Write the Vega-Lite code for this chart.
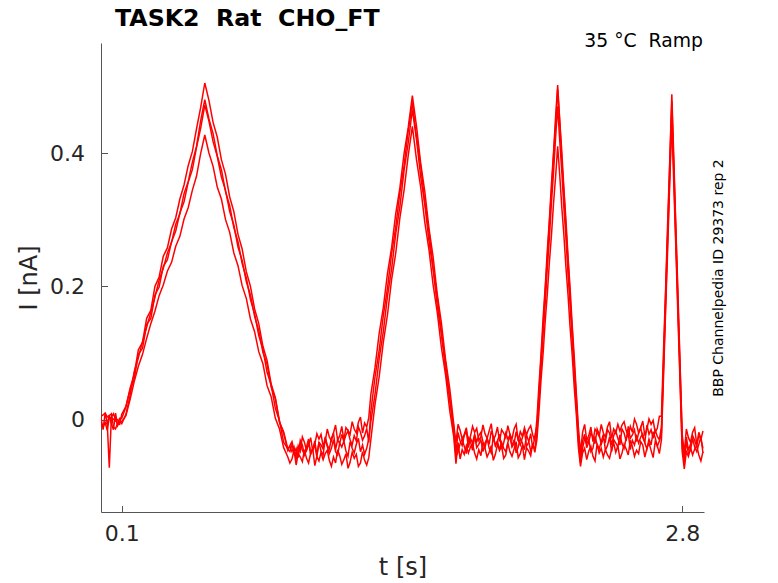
{
  "$schema": "https://vega.github.io/schema/vega-lite/v6.json",
  "width": 603,
  "height": 469,
  "autosize": {"type": "none"},
  "padding": {"left": 101, "top": 43, "right": 74, "bottom": 71},
  "background": "white",
  "title": {
    "text": "TASK2\u00a0 Rat\u00a0 CHO_FT",
    "anchor": "start",
    "frame": "group",
    "dx": 14,
    "offset": 1.5,
    "font": "DejaVu Sans",
    "fontSize": 23.7,
    "fontWeight": "bold",
    "color": "black"
  },
  "data": {
    "values": [
      {"t": 0.00, "a": 0.003, "b": -0.010, "c": 0.005, "d": -0.005},
      {"t": 0.01, "a": -0.015, "b": -0.008, "c": 0.007, "d": -0.011},
      {"t": 0.02, "a": 0.010, "b": -0.004, "c": 0.010, "d": -0.005},
      {"t": 0.03, "a": -0.005, "b": -0.016, "c": 0.004, "d": -0.006},
      {"t": 0.04, "a": -0.072, "b": 0.003, "c": 0.006, "d": 0.007},
      {"t": 0.05, "a": 0.004, "b": 0.003, "c": 0.009, "d": -0.007},
      {"t": 0.06, "a": 0.009, "b": 0.001, "c": -0.011, "d": -0.015},
      {"t": 0.07, "a": 0.000, "b": -0.002, "c": -0.014, "d": 0.010},
      {"t": 0.08, "a": -0.007, "b": 0.000, "c": -0.005, "d": -0.009},
      {"t": 0.09, "a": 0.002, "b": -0.003, "c": -0.007, "d": -0.003},
      {"t": 0.10, "a": 0.002, "b": -0.006, "c": 0.008, "d": -0.003},
      {"t": 0.12, "a": 0.019, "b": 0.008, "c": 0.020, "d": 0.006},
      {"t": 0.14, "a": 0.047, "b": 0.036, "c": 0.044, "d": 0.030},
      {"t": 0.16, "a": 0.068, "b": 0.072, "c": 0.061, "d": 0.057},
      {"t": 0.18, "a": 0.105, "b": 0.093, "c": 0.098, "d": 0.080},
      {"t": 0.20, "a": 0.116, "b": 0.117, "c": 0.107, "d": 0.098},
      {"t": 0.22, "a": 0.152, "b": 0.139, "c": 0.143, "d": 0.122},
      {"t": 0.24, "a": 0.164, "b": 0.161, "c": 0.152, "d": 0.144},
      {"t": 0.26, "a": 0.200, "b": 0.184, "c": 0.187, "d": 0.163},
      {"t": 0.28, "a": 0.214, "b": 0.209, "c": 0.199, "d": 0.186},
      {"t": 0.30, "a": 0.245, "b": 0.227, "c": 0.230, "d": 0.202},
      {"t": 0.32, "a": 0.258, "b": 0.250, "c": 0.240, "d": 0.223},
      {"t": 0.34, "a": 0.286, "b": 0.266, "c": 0.267, "d": 0.236},
      {"t": 0.36, "a": 0.303, "b": 0.293, "c": 0.283, "d": 0.260},
      {"t": 0.38, "a": 0.331, "b": 0.309, "c": 0.310, "d": 0.275},
      {"t": 0.40, "a": 0.352, "b": 0.339, "c": 0.327, "d": 0.301},
      {"t": 0.42, "a": 0.381, "b": 0.357, "c": 0.356, "d": 0.318},
      {"t": 0.44, "a": 0.402, "b": 0.386, "c": 0.375, "d": 0.344},
      {"t": 0.46, "a": 0.436, "b": 0.410, "c": 0.408, "d": 0.365},
      {"t": 0.48, "a": 0.468, "b": 0.448, "c": 0.437, "d": 0.399},
      {"t": 0.50, "a": 0.505, "b": 0.480, "c": 0.472, "d": 0.427},
      {"t": 0.52, "a": 0.479, "b": 0.451, "c": 0.448, "d": 0.400},
      {"t": 0.54, "a": 0.446, "b": 0.429, "c": 0.417, "d": 0.380},
      {"t": 0.56, "a": 0.424, "b": 0.396, "c": 0.395, "d": 0.349},
      {"t": 0.58, "a": 0.390, "b": 0.375, "c": 0.364, "d": 0.331},
      {"t": 0.60, "a": 0.368, "b": 0.342, "c": 0.344, "d": 0.300},
      {"t": 0.62, "a": 0.334, "b": 0.321, "c": 0.312, "d": 0.281},
      {"t": 0.64, "a": 0.312, "b": 0.288, "c": 0.292, "d": 0.250},
      {"t": 0.66, "a": 0.278, "b": 0.267, "c": 0.259, "d": 0.231},
      {"t": 0.68, "a": 0.256, "b": 0.234, "c": 0.239, "d": 0.201},
      {"t": 0.70, "a": 0.222, "b": 0.213, "c": 0.207, "d": 0.182},
      {"t": 0.72, "a": 0.200, "b": 0.180, "c": 0.187, "d": 0.151},
      {"t": 0.74, "a": 0.166, "b": 0.159, "c": 0.155, "d": 0.132},
      {"t": 0.76, "a": 0.144, "b": 0.126, "c": 0.134, "d": 0.102},
      {"t": 0.78, "a": 0.110, "b": 0.106, "c": 0.101, "d": 0.084},
      {"t": 0.80, "a": 0.089, "b": 0.071, "c": 0.083, "d": 0.051},
      {"t": 0.82, "a": 0.053, "b": 0.052, "c": 0.049, "d": 0.034},
      {"t": 0.84, "a": 0.033, "b": 0.017, "c": 0.031, "d": 0.002},
      {"t": 0.86, "a": -0.003, "b": -0.002, "c": -0.004, "d": -0.014},
      {"t": 0.88, "a": -0.021, "b": -0.034, "c": -0.018, "d": -0.042},
      {"t": 0.90, "a": -0.046, "b": -0.044, "c": -0.044, "d": -0.056},
      {"t": 0.91, "a": -0.039, "b": -0.040, "c": -0.048, "d": -0.065},
      {"t": 0.92, "a": -0.033, "b": -0.048, "c": -0.037, "d": -0.059},
      {"t": 0.93, "a": -0.046, "b": -0.041, "c": -0.050, "d": -0.046},
      {"t": 0.94, "a": -0.054, "b": -0.059, "c": -0.043, "d": -0.068},
      {"t": 0.95, "a": -0.039, "b": -0.053, "c": -0.057, "d": -0.051},
      {"t": 0.96, "a": -0.047, "b": -0.034, "c": -0.031, "d": -0.056},
      {"t": 0.97, "a": -0.026, "b": -0.046, "c": -0.038, "d": -0.063},
      {"t": 0.98, "a": -0.034, "b": -0.052, "c": -0.053, "d": -0.045},
      {"t": 0.99, "a": -0.046, "b": -0.041, "c": -0.046, "d": -0.058},
      {"t": 1.00, "a": -0.038, "b": -0.029, "c": -0.033, "d": -0.065},
      {"t": 1.01, "a": -0.027, "b": -0.052, "c": -0.051, "d": -0.050},
      {"t": 1.02, "a": -0.047, "b": -0.045, "c": -0.044, "d": -0.043},
      {"t": 1.03, "a": -0.037, "b": -0.032, "c": -0.038, "d": -0.069},
      {"t": 1.04, "a": -0.021, "b": -0.053, "c": -0.056, "d": -0.055},
      {"t": 1.05, "a": -0.029, "b": -0.034, "c": -0.034, "d": -0.062},
      {"t": 1.06, "a": -0.022, "b": -0.038, "c": -0.047, "d": -0.049},
      {"t": 1.07, "a": -0.039, "b": -0.044, "c": -0.053, "d": -0.060},
      {"t": 1.08, "a": -0.033, "b": -0.026, "c": -0.029, "d": -0.051},
      {"t": 1.09, "a": -0.014, "b": -0.038, "c": -0.040, "d": -0.046},
      {"t": 1.10, "a": -0.026, "b": -0.044, "c": -0.051, "d": -0.061},
      {"t": 1.11, "a": -0.032, "b": -0.028, "c": -0.043, "d": -0.070},
      {"t": 1.12, "a": -0.020, "b": -0.020, "c": -0.030, "d": -0.056},
      {"t": 1.13, "a": -0.008, "b": -0.045, "c": -0.048, "d": -0.065},
      {"t": 1.14, "a": -0.031, "b": -0.030, "c": -0.053, "d": -0.045},
      {"t": 1.15, "a": -0.024, "b": -0.036, "c": -0.035, "d": -0.054},
      {"t": 1.16, "a": -0.010, "b": -0.022, "c": -0.041, "d": -0.067},
      {"t": 1.17, "a": -0.031, "b": -0.033, "c": -0.032, "d": -0.060},
      {"t": 1.18, "a": -0.012, "b": -0.023, "c": -0.047, "d": -0.051},
      {"t": 1.19, "a": -0.016, "b": -0.017, "c": -0.055, "d": -0.073},
      {"t": 1.20, "a": -0.022, "b": -0.030, "c": -0.033, "d": -0.064},
      {"t": 1.21, "a": -0.003, "b": -0.038, "c": -0.043, "d": -0.049},
      {"t": 1.22, "a": -0.014, "b": -0.024, "c": -0.050, "d": -0.058},
      {"t": 1.23, "a": -0.020, "b": -0.032, "c": -0.037, "d": -0.052},
      {"t": 1.24, "a": -0.004, "b": -0.011, "c": -0.028, "d": -0.070},
      {"t": 1.25, "a": 0.004, "b": -0.019, "c": -0.048, "d": -0.065},
      {"t": 1.26, "a": -0.020, "b": -0.031, "c": -0.038, "d": -0.048},
      {"t": 1.27, "a": -0.005, "b": -0.024, "c": -0.052, "d": -0.061},
      {"t": 1.28, "a": -0.011, "b": -0.013, "c": -0.043, "d": -0.068},
      {"t": 1.29, "a": 0.003, "b": -0.034, "c": -0.029, "d": -0.057},
      {"t": 1.30, "a": 0.038, "b": 0.012, "c": -0.003, "d": -0.030},
      {"t": 1.32, "a": 0.078, "b": 0.064, "c": 0.038, "d": 0.023},
      {"t": 1.34, "a": 0.129, "b": 0.104, "c": 0.091, "d": 0.064},
      {"t": 1.36, "a": 0.168, "b": 0.156, "c": 0.132, "d": 0.116},
      {"t": 1.38, "a": 0.219, "b": 0.197, "c": 0.185, "d": 0.157},
      {"t": 1.40, "a": 0.258, "b": 0.249, "c": 0.226, "d": 0.210},
      {"t": 1.42, "a": 0.309, "b": 0.289, "c": 0.279, "d": 0.250},
      {"t": 1.44, "a": 0.348, "b": 0.341, "c": 0.320, "d": 0.303},
      {"t": 1.46, "a": 0.399, "b": 0.381, "c": 0.374, "d": 0.344},
      {"t": 1.48, "a": 0.438, "b": 0.433, "c": 0.415, "d": 0.396},
      {"t": 1.50, "a": 0.486, "b": 0.476, "c": 0.465, "d": 0.440},
      {"t": 1.52, "a": 0.440, "b": 0.424, "c": 0.420, "d": 0.390},
      {"t": 1.54, "a": 0.385, "b": 0.381, "c": 0.365, "d": 0.349},
      {"t": 1.56, "a": 0.342, "b": 0.326, "c": 0.323, "d": 0.296},
      {"t": 1.58, "a": 0.287, "b": 0.282, "c": 0.268, "d": 0.255},
      {"t": 1.60, "a": 0.244, "b": 0.227, "c": 0.226, "d": 0.202},
      {"t": 1.62, "a": 0.188, "b": 0.184, "c": 0.171, "d": 0.161},
      {"t": 1.64, "a": 0.145, "b": 0.129, "c": 0.129, "d": 0.108},
      {"t": 1.66, "a": 0.090, "b": 0.086, "c": 0.074, "d": 0.067},
      {"t": 1.68, "a": 0.047, "b": 0.031, "c": 0.032, "d": 0.014},
      {"t": 1.70, "a": -0.008, "b": -0.012, "c": -0.023, "d": -0.027},
      {"t": 1.71, "a": -0.035, "b": -0.050, "c": -0.055, "d": -0.066},
      {"t": 1.72, "a": -0.007, "b": -0.019, "c": -0.049, "d": -0.034},
      {"t": 1.73, "a": -0.016, "b": -0.032, "c": -0.036, "d": -0.059},
      {"t": 1.74, "a": -0.029, "b": -0.039, "c": -0.029, "d": -0.045},
      {"t": 1.75, "a": -0.022, "b": -0.024, "c": -0.040, "d": -0.052},
      {"t": 1.76, "a": -0.012, "b": -0.017, "c": -0.051, "d": -0.039},
      {"t": 1.77, "a": -0.034, "b": -0.042, "c": -0.027, "d": -0.050},
      {"t": 1.78, "a": -0.025, "b": -0.028, "c": -0.033, "d": -0.041},
      {"t": 1.79, "a": -0.010, "b": -0.035, "c": -0.046, "d": -0.036},
      {"t": 1.80, "a": -0.019, "b": -0.022, "c": -0.024, "d": -0.050},
      {"t": 1.81, "a": -0.013, "b": -0.033, "c": -0.042, "d": -0.059},
      {"t": 1.82, "a": -0.031, "b": -0.024, "c": -0.037, "d": -0.045},
      {"t": 1.83, "a": -0.026, "b": -0.019, "c": -0.030, "d": -0.054},
      {"t": 1.84, "a": -0.008, "b": -0.033, "c": -0.048, "d": -0.034},
      {"t": 1.85, "a": -0.021, "b": -0.042, "c": -0.035, "d": -0.043},
      {"t": 1.86, "a": -0.028, "b": -0.028, "c": -0.028, "d": -0.056},
      {"t": 1.87, "a": -0.017, "b": -0.037, "c": -0.043, "d": -0.049},
      {"t": 1.88, "a": -0.006, "b": -0.017, "c": -0.050, "d": -0.039},
      {"t": 1.89, "a": -0.030, "b": -0.026, "c": -0.025, "d": -0.061},
      {"t": 1.90, "a": -0.024, "b": -0.039, "c": -0.039, "d": -0.052},
      {"t": 1.91, "a": -0.011, "b": -0.032, "c": -0.032, "d": -0.037},
      {"t": 1.92, "a": -0.033, "b": -0.022, "c": -0.045, "d": -0.046},
      {"t": 1.93, "a": -0.015, "b": -0.044, "c": -0.034, "d": -0.040},
      {"t": 1.94, "a": -0.020, "b": -0.035, "c": -0.043, "d": -0.058},
      {"t": 1.95, "a": -0.027, "b": -0.020, "c": -0.048, "d": -0.053},
      {"t": 1.96, "a": -0.009, "b": -0.029, "c": -0.034, "d": -0.035},
      {"t": 1.97, "a": -0.022, "b": -0.023, "c": -0.025, "d": -0.048},
      {"t": 1.98, "a": -0.029, "b": -0.041, "c": -0.039, "d": -0.055},
      {"t": 1.99, "a": -0.014, "b": -0.036, "c": -0.030, "d": -0.044},
      {"t": 2.00, "a": -0.007, "b": -0.018, "c": -0.050, "d": -0.033},
      {"t": 2.01, "a": -0.032, "b": -0.031, "c": -0.041, "d": -0.057},
      {"t": 2.02, "a": -0.018, "b": -0.038, "c": -0.028, "d": -0.051},
      {"t": 2.03, "a": -0.025, "b": -0.027, "c": -0.035, "d": -0.038},
      {"t": 2.04, "a": -0.012, "b": -0.016, "c": -0.045, "d": -0.060},
      {"t": 2.05, "a": -0.023, "b": -0.040, "c": -0.023, "d": -0.042},
      {"t": 2.06, "a": -0.014, "b": -0.034, "c": -0.032, "d": -0.047},
      {"t": 2.07, "a": -0.009, "b": -0.021, "c": -0.047, "d": -0.054},
      {"t": 2.08, "a": -0.023, "b": -0.043, "c": -0.038, "d": -0.036},
      {"t": 2.09, "a": -0.032, "b": -0.025, "c": -0.044, "d": -0.049},
      {"t": 2.10, "a": 0.000, "b": -0.010, "c": -0.020, "d": -0.030},
      {"t": 2.11, "a": 0.052, "b": 0.039, "c": 0.031, "d": 0.012},
      {"t": 2.12, "a": 0.098, "b": 0.093, "c": 0.076, "d": 0.060},
      {"t": 2.13, "a": 0.153, "b": 0.140, "c": 0.129, "d": 0.100},
      {"t": 2.14, "a": 0.199, "b": 0.194, "c": 0.174, "d": 0.148},
      {"t": 2.15, "a": 0.253, "b": 0.241, "c": 0.227, "d": 0.188},
      {"t": 2.16, "a": 0.299, "b": 0.295, "c": 0.272, "d": 0.236},
      {"t": 2.17, "a": 0.353, "b": 0.342, "c": 0.325, "d": 0.276},
      {"t": 2.18, "a": 0.400, "b": 0.396, "c": 0.370, "d": 0.324},
      {"t": 2.19, "a": 0.454, "b": 0.443, "c": 0.423, "d": 0.364},
      {"t": 2.20, "a": 0.502, "b": 0.495, "c": 0.470, "d": 0.410},
      {"t": 2.21, "a": 0.449, "b": 0.446, "c": 0.418, "d": 0.367},
      {"t": 2.22, "a": 0.402, "b": 0.390, "c": 0.372, "d": 0.318},
      {"t": 2.23, "a": 0.346, "b": 0.343, "c": 0.318, "d": 0.277},
      {"t": 2.24, "a": 0.299, "b": 0.287, "c": 0.272, "d": 0.228},
      {"t": 2.25, "a": 0.244, "b": 0.240, "c": 0.218, "d": 0.187},
      {"t": 2.26, "a": 0.197, "b": 0.184, "c": 0.172, "d": 0.138},
      {"t": 2.27, "a": 0.142, "b": 0.136, "c": 0.118, "d": 0.097},
      {"t": 2.28, "a": 0.094, "b": 0.081, "c": 0.072, "d": 0.048},
      {"t": 2.29, "a": 0.039, "b": 0.033, "c": 0.018, "d": 0.007},
      {"t": 2.30, "a": -0.012, "b": -0.022, "c": -0.032, "d": -0.042},
      {"t": 2.31, "a": -0.050, "b": -0.060, "c": -0.064, "d": -0.070},
      {"t": 2.32, "a": -0.019, "b": -0.032, "c": -0.043, "d": -0.050},
      {"t": 2.33, "a": -0.007, "b": -0.022, "c": -0.028, "d": -0.043},
      {"t": 2.34, "a": -0.031, "b": -0.042, "c": -0.036, "d": -0.060},
      {"t": 2.35, "a": -0.024, "b": -0.033, "c": -0.030, "d": -0.047},
      {"t": 2.36, "a": -0.011, "b": -0.020, "c": -0.048, "d": -0.040},
      {"t": 2.37, "a": -0.033, "b": -0.026, "c": -0.043, "d": -0.055},
      {"t": 2.38, "a": -0.014, "b": -0.036, "c": -0.025, "d": -0.062},
      {"t": 2.39, "a": -0.019, "b": -0.014, "c": -0.037, "d": -0.036},
      {"t": 2.40, "a": -0.025, "b": -0.022, "c": -0.044, "d": -0.050},
      {"t": 2.41, "a": -0.007, "b": -0.037, "c": -0.033, "d": -0.043},
      {"t": 2.42, "a": -0.020, "b": -0.028, "c": -0.022, "d": -0.056},
      {"t": 2.43, "a": -0.026, "b": -0.033, "c": -0.046, "d": -0.045},
      {"t": 2.44, "a": -0.011, "b": -0.015, "c": -0.039, "d": -0.053},
      {"t": 2.45, "a": -0.003, "b": -0.020, "c": -0.026, "d": -0.058},
      {"t": 2.46, "a": -0.028, "b": -0.038, "c": -0.048, "d": -0.044},
      {"t": 2.47, "a": -0.014, "b": -0.024, "c": -0.030, "d": -0.035},
      {"t": 2.48, "a": -0.020, "b": -0.017, "c": -0.035, "d": -0.049},
      {"t": 2.49, "a": -0.007, "b": -0.028, "c": -0.041, "d": -0.039},
      {"t": 2.50, "a": -0.017, "b": -0.038, "c": -0.023, "d": -0.059},
      {"t": 2.51, "a": -0.008, "b": -0.014, "c": -0.036, "d": -0.050},
      {"t": 2.52, "a": -0.003, "b": -0.020, "c": -0.043, "d": -0.037},
      {"t": 2.53, "a": -0.016, "b": -0.032, "c": -0.028, "d": -0.044},
      {"t": 2.54, "a": -0.025, "b": -0.010, "c": -0.020, "d": -0.053},
      {"t": 2.55, "a": -0.010, "b": -0.028, "c": -0.045, "d": -0.031},
      {"t": 2.56, "a": -0.019, "b": -0.023, "c": -0.031, "d": -0.040},
      {"t": 2.57, "a": 0.001, "b": -0.015, "c": -0.038, "d": -0.055},
      {"t": 2.58, "a": -0.007, "b": -0.033, "c": -0.025, "d": -0.046},
      {"t": 2.59, "a": -0.020, "b": -0.020, "c": -0.035, "d": -0.051},
      {"t": 2.60, "a": -0.012, "b": -0.012, "c": -0.026, "d": -0.033},
      {"t": 2.61, "a": -0.002, "b": -0.027, "c": -0.021, "d": -0.038},
      {"t": 2.62, "a": -0.024, "b": -0.034, "c": -0.035, "d": -0.056},
      {"t": 2.63, "a": -0.014, "b": -0.008, "c": -0.044, "d": -0.043},
      {"t": 2.64, "a": 0.001, "b": -0.022, "c": -0.029, "d": -0.035},
      {"t": 2.65, "a": -0.007, "b": -0.015, "c": -0.038, "d": -0.046},
      {"t": 2.66, "a": -0.001, "b": -0.028, "c": -0.018, "d": -0.057},
      {"t": 2.67, "a": -0.019, "b": -0.016, "c": -0.027, "d": -0.033},
      {"t": 2.68, "a": -0.013, "b": -0.025, "c": -0.040, "d": -0.039},
      {"t": 2.69, "a": 0.005, "b": -0.030, "c": -0.032, "d": -0.051},
      {"t": 2.70, "a": 0.005, "b": -0.010, "c": -0.020, "d": -0.030},
      {"t": 2.71, "a": 0.104, "b": 0.086, "c": 0.079, "d": 0.064},
      {"t": 2.72, "a": 0.196, "b": 0.187, "c": 0.172, "d": 0.164},
      {"t": 2.73, "a": 0.297, "b": 0.281, "c": 0.273, "d": 0.256},
      {"t": 2.74, "a": 0.389, "b": 0.382, "c": 0.366, "d": 0.356},
      {"t": 2.75, "a": 0.488, "b": 0.478, "c": 0.465, "d": 0.450},
      {"t": 2.76, "a": 0.388, "b": 0.374, "c": 0.366, "d": 0.348},
      {"t": 2.77, "a": 0.283, "b": 0.277, "c": 0.261, "d": 0.252},
      {"t": 2.78, "a": 0.185, "b": 0.171, "c": 0.164, "d": 0.148},
      {"t": 2.79, "a": 0.080, "b": 0.074, "c": 0.059, "d": 0.052},
      {"t": 2.80, "a": -0.022, "b": -0.028, "c": -0.042, "d": -0.048},
      {"t": 2.81, "a": -0.050, "b": -0.066, "c": -0.060, "d": -0.074},
      {"t": 2.82, "a": -0.014, "b": -0.026, "c": -0.033, "d": -0.048},
      {"t": 2.83, "a": -0.027, "b": -0.046, "c": -0.051, "d": -0.055},
      {"t": 2.84, "a": -0.034, "b": -0.037, "c": -0.046, "d": -0.042},
      {"t": 2.85, "a": -0.019, "b": -0.024, "c": -0.028, "d": -0.053},
      {"t": 2.86, "a": -0.012, "b": -0.031, "c": -0.041, "d": -0.044},
      {"t": 2.87, "a": -0.037, "b": -0.041, "c": -0.048, "d": -0.039},
      {"t": 2.88, "a": -0.023, "b": -0.019, "c": -0.037, "d": -0.053},
      {"t": 2.89, "a": -0.030, "b": -0.028, "c": -0.026, "d": -0.062},
      {"t": 2.90, "a": -0.017, "b": -0.043, "c": -0.050, "d": -0.048}
    ]
  },
  "layer": [
    {
      "transform": [{"fold": ["a", "b", "c", "d"], "as": ["run", "i"]}],
      "mark": {"type": "line", "color": "#ff0000", "strokeWidth": 1.5, "clip": true},
      "encoding": {
        "x": {
          "field": "t",
          "type": "quantitative",
          "scale": {"domain": [0, 2.905], "nice": false, "zero": false},
          "axis": {
            "values": [0.1, 2.8],
            "format": ".1f",
            "title": "t [s]",
            "tickSize": -6.5,
            "labelPadding": 18,
            "titlePadding": 11
          }
        },
        "y": {
          "field": "i",
          "type": "quantitative",
          "scale": {"domain": [-0.1385, 0.565], "nice": false, "zero": false},
          "axis": {
            "values": [0, 0.2, 0.4],
            "format": "~g",
            "title": "I [nA]",
            "tickSize": -6.5,
            "labelPadding": 23,
            "titlePadding": 8
          }
        },
        "detail": {"field": "run", "type": "nominal"}
      }
    },
    {
      "data": {"values": [{}]},
      "mark": {
        "type": "text",
        "text": "35 °C\u00a0 Ramp",
        "align": "right",
        "baseline": "alphabetic",
        "font": "DejaVu Sans",
        "fontSize": 18.8,
        "color": "black"
      },
      "encoding": {
        "x": {"datum": 2.9, "type": "quantitative"},
        "y": {
          "datum": 0.5586,
          "type": "quantitative",
          "axis": {
            "orient": "right",
            "title": "BBP Channelpedia ID 29373 rep 2",
            "domain": false,
            "ticks": false,
            "labels": false,
            "grid": false,
            "titleAngle": 270,
            "titleBaseline": "top",
            "titlePadding": 7,
            "titleFontSize": 14,
            "titleColor": "black"
          }
        }
      }
    }
  ],
  "resolve": {"axis": {"y": "independent"}},
  "config": {
    "font": "DejaVu Sans",
    "view": {"stroke": null},
    "axis": {
      "grid": false,
      "domainColor": "#555555",
      "tickColor": "#555555",
      "domainWidth": 1,
      "tickWidth": 1,
      "labelFont": "DejaVu Sans",
      "labelFontSize": 22,
      "labelColor": "#262626",
      "titleFont": "DejaVu Sans",
      "titleFontSize": 24,
      "titleFontWeight": "normal",
      "titleColor": "#262626"
    }
  }
}
